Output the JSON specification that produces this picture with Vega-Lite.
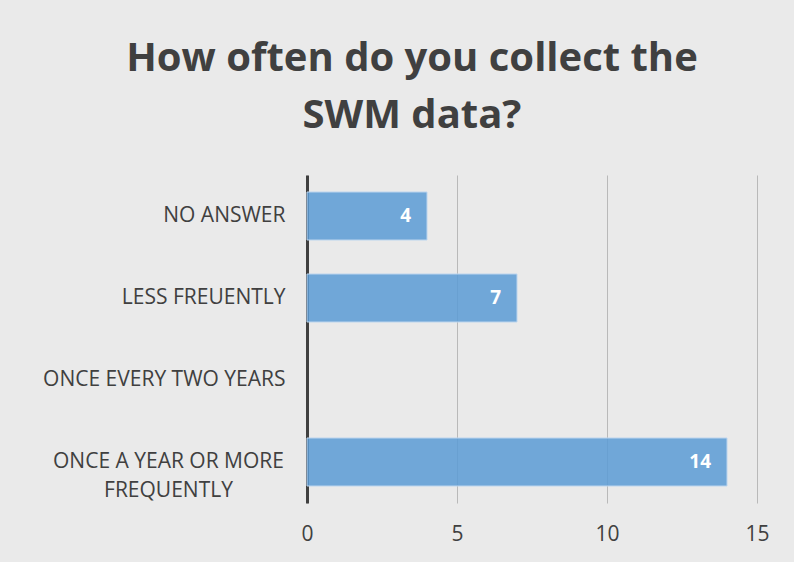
{
  "$schema": "https://vega.github.io/schema/vega-lite/v6.json",
  "autosize": {"type": "none"},
  "width": 450,
  "height": 328,
  "padding": {"left": 307, "top": 175, "right": 37, "bottom": 59},
  "background": "#eaeaea",
  "title": {
    "text": ["How often do you collect the", "SWM data?"],
    "font": "Open Sans",
    "fontSize": 40,
    "fontWeight": "bold",
    "color": "#404040",
    "lineHeight": 57,
    "anchor": "middle",
    "frame": "group",
    "dx": -120,
    "offset": 39
  },
  "data": {
    "values": [
      {"answer": "NO ANSWER", "count": 4},
      {"answer": "LESS FREUENTLY", "count": 7},
      {"answer": "ONCE EVERY TWO YEARS", "count": 0},
      {"answer": "ONCE A YEAR OR MORE FREQUENTLY", "count": 14}
    ]
  },
  "encoding": {
    "y": {
      "field": "answer",
      "type": "nominal",
      "sort": null,
      "scale": {
        "domain": ["NO ANSWER", "LESS FREUENTLY", "ONCE EVERY TWO YEARS", "ONCE A YEAR OR MORE FREQUENTLY"],
        "paddingInner": 0.415,
        "paddingOuter": 0.2075
      },
      "axis": {
        "title": null,
        "ticks": false,
        "domainColor": "#404040",
        "domainWidth": 3,
        "labelFont": "Open Sans",
        "labelFontSize": 21,
        "labelColor": "#404040",
        "labelLineHeight": 29,
        "labelLimit": 400,
        "labelPadding": {"condition": {"test": "datum.value == 'ONCE A YEAR OR MORE FREQUENTLY'", "value": 139}, "value": 22},
        "labelAlign": {"condition": {"test": "datum.value == 'ONCE A YEAR OR MORE FREQUENTLY'", "value": "center"}, "value": "right"},
        "labelExpr": "datum.value == 'ONCE A YEAR OR MORE FREQUENTLY' ? ['ONCE A YEAR OR MORE', 'FREQUENTLY'] : datum.value"
      }
    },
    "x": {
      "field": "count",
      "type": "quantitative",
      "scale": {"domain": [0, 15], "nice": false},
      "axis": {
        "title": null,
        "values": [0, 5, 10, 15],
        "domain": false,
        "ticks": false,
        "grid": true,
        "gridColor": "#7f7f7f",
        "gridOpacity": 0.45,
        "gridWidth": 1,
        "labelFlush": false,
        "labelFont": "Open Sans",
        "labelFontSize": 21,
        "labelColor": "#404040",
        "labelPadding": 20
      }
    }
  },
  "layer": [
    {
      "transform": [{"filter": "datum.count > 0"}],
      "mark": {"type": "bar", "fill": "#5b9bd5", "fillOpacity": 0.85, "stroke": "#bcd5ee", "strokeWidth": 1}
    },
    {
      "transform": [{"filter": "datum.count > 0"}],
      "mark": {"type": "text", "align": "right", "baseline": "middle", "dx": -16, "font": "Open Sans", "fontSize": 19, "fontWeight": "bold", "color": "#ffffff"},
      "encoding": {"text": {"field": "count", "type": "quantitative"}}
    }
  ],
  "config": {"view": {"stroke": null}}
}
